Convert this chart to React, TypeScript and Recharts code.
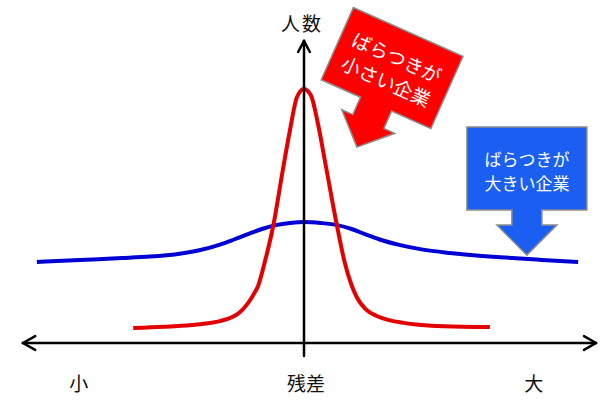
// Residual spread diagram: narrow (red) vs wide (blue) distribution with callouts.
import { LineChart, Line, XAxis, YAxis, ReferenceLine, ReferenceDot } from "recharts";

const FONT = '"Noto Sans CJK JP", "Noto Sans", sans-serif';

// narrow distribution (ばらつきが小さい企業)
const narrowX = [-6.1, -5, -4, -3.5, -3, -2.6, -2.3, -2, -1.8, -1.64, -1.4, -1.1, -0.75, -0.5, -0.25, 0, 0.25, 0.5, 0.8, 1.18, 1.45, 1.71, 1.9, 2.2, 2.6, 3, 3.5, 4, 5, 6.64];
const narrowCount = [0.5, 0.54, 0.6, 0.65, 0.73, 0.85, 1.02, 1.33, 1.62, 1.9, 2.7, 3.9, 5.8, 7.1, 8.2, 8.47, 8.25, 7.3, 5.8, 3.9, 2.7, 1.9, 1.5, 1.13, 0.9, 0.77, 0.68, 0.62, 0.56, 0.53];

// wide distribution (ばらつきが大きい企業)
const wideX = [-9.54, -8, -6.5, -5.5, -4.5, -3.7, -3, -2.5, -2, -1.5, -1, -0.5, 0, 0.6, 1.2, 1.7, 2.2, 2.7, 3.4, 4.2, 5.2, 7, 8.5, 9.79];
const wideCount = [2.7, 2.77, 2.83, 2.88, 2.97, 3.1, 3.28, 3.45, 3.63, 3.8, 3.93, 4.0, 4.03, 4.0, 3.93, 3.8, 3.62, 3.45, 3.27, 3.12, 3.0, 2.86, 2.77, 2.7];

const axisLabels = [
  { text: "小", x: -8.04, y: -1.3 },
  { text: "残差", x: 0.07, y: -1.3 },
  { text: "大", x: 8.21, y: -1.3 },
  { text: "人数", x: -0.07, y: 10.7 },
];

const narrowData = narrowX.map((x, i) => ({ x, y: narrowCount[i] }));
const wideData = wideX.map((x, i) => ({ x, y: wideCount[i] }));

function RedCallout({ cx, cy }: any) {
  return (
    <g transform={`translate(${cx},${cy}) rotate(24)`}>
      <polygon
        points="0,0 -29,-28 -17,-28 -17,-47 -60,-47 -60,-126 60,-126 60,-47 17,-47 17,-28 29,-28"
        fill="#ff0000"
        stroke="#8c8c8c"
        strokeWidth={1.5}
      />
      <text x={0} y={-99} textAnchor="middle" dominantBaseline="central" fill="#fff" fontSize={19} fontFamily={FONT}>
        ばらつきが
      </text>
      <text x={0} y={-73} textAnchor="middle" dominantBaseline="central" fill="#fff" fontSize={19} fontFamily={FONT}>
        小さい企業
      </text>
    </g>
  );
}

function BlueCallout({ cx, cy }: any) {
  return (
    <g transform={`translate(${cx},${cy})`}>
      <polygon
        points="0,0 -30,-30 -15,-30 -15,-45 -60,-45 -60,-128 60,-128 60,-45 15,-45 15,-30 30,-30"
        fill="#1a5ef2"
        stroke="#8c8c8c"
        strokeWidth={1.5}
      />
      <text x={0} y={-97} textAnchor="middle" dominantBaseline="central" fill="#fff" fontSize={17} fontFamily={FONT}>
        ばらつきが
      </text>
      <text x={0} y={-73} textAnchor="middle" dominantBaseline="central" fill="#fff" fontSize={17} fontFamily={FONT}>
        大きい企業
      </text>
    </g>
  );
}

const AX = { stroke: "#000", strokeWidth: 2.5, ifOverflow: "visible" as const, strokeLinecap: "round" as const };

export default function App() {
  return (
    <div style={{ position: "absolute", left: 0, top: 0, background: "#fff" }}>
      <LineChart width={610} height={403} margin={{ top: 13, right: 12, bottom: 0, left: 10 }}>
        <XAxis type="number" dataKey="x" domain={[-10.5, 10.5]} hide allowDataOverflow />
        <YAxis type="number" dataKey="y" domain={[-2, 11]} hide allowDataOverflow />
        <Line data={wideData} dataKey="y" type="monotone" stroke="#0000d4" strokeWidth={4} dot={false} isAnimationActive={false} />
        <Line data={narrowData} dataKey="y" type="monotone" stroke="#e30000" strokeWidth={4} dot={false} isAnimationActive={false} />
        {/* horizontal axis with arrows both ends */}
        <ReferenceLine segment={[{ x: -10.04, y: 0 }, { x: 10.43, y: 0 }]} {...AX} />
        <ReferenceLine segment={[{ x: -10.04, y: 0 }, { x: -9.6, y: 0.23 }]} {...AX} />
        <ReferenceLine segment={[{ x: -10.04, y: 0 }, { x: -9.6, y: -0.23 }]} {...AX} />
        <ReferenceLine segment={[{ x: 10.43, y: 0 }, { x: 10.0, y: 0.23 }]} {...AX} />
        <ReferenceLine segment={[{ x: 10.43, y: 0 }, { x: 10.0, y: -0.23 }]} {...AX} />
        {/* vertical axis */}
        <ReferenceLine segment={[{ x: 0, y: -0.43 }, { x: 0, y: 10.07 }]} {...AX} />
        <ReferenceLine segment={[{ x: 0, y: 10.07 }, { x: -0.21, y: 9.7 }]} {...AX} />
        <ReferenceLine segment={[{ x: 0, y: 10.07 }, { x: 0.21, y: 9.7 }]} {...AX} />
        {axisLabels.map((l) => (
          <ReferenceDot
            key={l.text}
            x={l.x}
            y={l.y}
            ifOverflow="visible"
            shape={({ cx, cy }: any) => (
              <text x={cx} y={cy} textAnchor="middle" dominantBaseline="central" fontSize={19} fontFamily={FONT} fill="#111" letterSpacing={l.text === "人数" ? 2 : 0}>
                {l.text}
              </text>
            )}
          />
        ))}
        <ReferenceDot x={1.89} y={6.53} ifOverflow="visible" shape={RedCallout} />
        <ReferenceDot x={7.96} y={2.93} ifOverflow="visible" shape={BlueCallout} />
      </LineChart>
    </div>
  );
}
